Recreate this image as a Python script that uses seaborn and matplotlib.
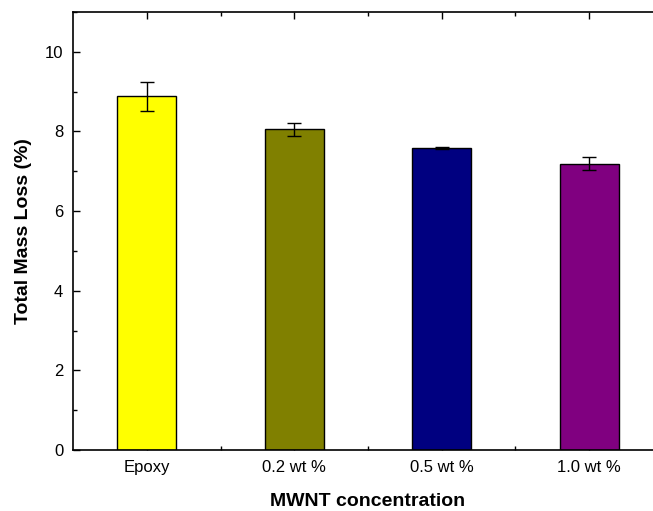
import matplotlib
matplotlib.use("Agg")
import matplotlib.pyplot as plt
import seaborn as sns
import pandas as pd
from matplotlib.ticker import MultipleLocator, FixedLocator

# Data
categories = ["Epoxy", "0.2 wt %", "0.5 wt %", "1.0 wt %"]
mass_loss = [8.88, 8.05, 7.58, 7.19]
mass_err = [0.37, 0.17, 0.02, 0.17]
bar_colors = ["#FFFF00", "#808000", "#000080", "#800080"]

sns.set_style("ticks")
plt.rcParams["font.family"] = ["Liberation Sans", "DejaVu Sans"]

df = pd.DataFrame({"conc": categories, "loss": mass_loss})

fig = plt.figure(figsize=(6.53, 5.11), dpi=100)
ax = fig.add_axes([0.1118, 0.1194, 0.9035, 0.8571])

sns.barplot(data=df, x="conc", y="loss", hue="conc", palette=bar_colors,
            saturation=1, width=0.4, edgecolor="black", linewidth=1,
            legend=False, ax=ax)
ax.errorbar(range(len(categories)), mass_loss, yerr=mass_err, fmt="none",
            ecolor="black", elinewidth=1, capsize=5, capthick=1)

ax.set_xlim(-0.5, 3.5)
ax.set_ylim(0, 11)
ax.yaxis.set_major_locator(MultipleLocator(2))
ax.yaxis.set_minor_locator(MultipleLocator(1))
ax.xaxis.set_minor_locator(FixedLocator([0.5, 1.5, 2.5]))

ax.tick_params(axis="both", which="both", direction="in", top=True, right=False,
               labelsize=12, colors="black")
ax.tick_params(which="major", length=5, width=1, pad=7)
ax.tick_params(which="minor", length=3, width=1)
for side in ["left", "bottom", "top"]:
    ax.spines[side].set_linewidth(1.2)
    ax.spines[side].set_color("black")
ax.spines["right"].set_visible(False)

ax.set_xlabel("MWNT concentration", fontsize=14, fontweight="bold",
              labelpad=13, color="black")
ax.set_ylabel("Total Mass Loss (%)", fontsize=14, fontweight="bold",
              labelpad=9, color="black")

fig.savefig("out.png", dpi=100)
